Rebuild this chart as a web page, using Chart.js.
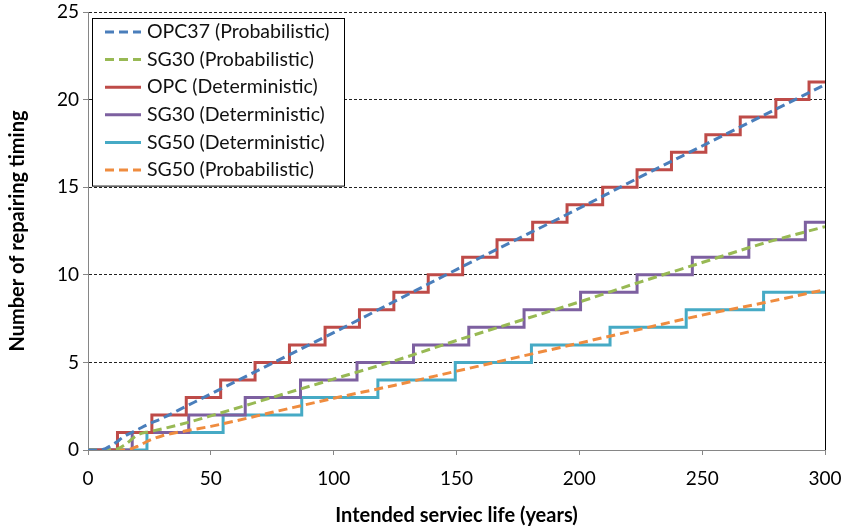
<!DOCTYPE html>
<html>
<head>
<meta charset="utf-8">
<script src="https://cdn.jsdelivr.net/npm/chart.js@4"></script>
<style>
  html, body { margin: 0; padding: 0; background: #fff; }
  #wrap { width: 843px; height: 528px; }
</style>
</head>
<body>
<div id="wrap"><canvas id="repairChart" width="843" height="528"></canvas></div>
<script>
// probabilistic curves
const years = [0, 5, 10, 15, 20, 25, 30, 40, 50, 75, 100, 125, 150, 175, 200, 225, 250, 275, 300];
const opc37Prob = [0, 0, 0.3, 0.8, 1.15, 1.5, 1.8, 2.5, 3.2, 4.95, 6.7, 8.5, 10.3, 12.05, 13.8, 15.6, 17.35, 19.1, 20.85];
const sg30Prob = [0, 0, 0, 0.3, 0.85, 1.05, 1.2, 1.55, 1.95, 3.0, 4.05, 5.1, 6.25, 7.35, 8.45, 9.6, 10.7, 11.8, 12.75];
const sg50Prob = [0, 0, 0, 0, 0.2, 0.55, 0.8, 1.1, 1.35, 2.15, 2.95, 3.7, 4.5, 5.3, 6.1, 6.9, 7.7, 8.4, 9.15];

// deterministic steps: year of each repair
const opcDetYears = [0, 12, 26, 40, 54, 68, 82, 96.5, 110.5, 124.5, 138.5, 152.5, 166.5, 181, 195, 209.5, 223.5, 237.5, 251.5, 265.5, 280, 293.5, 300];
const opcDet = [0, 1, 2, 3, 4, 5, 6, 7, 8, 9, 10, 11, 12, 13, 14, 15, 16, 17, 18, 19, 20, 21, 21];
const sg30DetYears = [0, 18, 41, 64, 86.5, 109.5, 132.5, 155, 177.5, 200.5, 223.5, 246, 269, 292, 300];
const sg30Det = [0, 1, 2, 3, 4, 5, 6, 7, 8, 9, 10, 11, 12, 13, 13];
const sg50DetYears = [0, 24, 55, 87, 118, 149.5, 180.5, 212.5, 243.5, 275, 300];
const sg50Det = [0, 1, 2, 3, 4, 5, 6, 7, 8, 9, 9];

const xTicks = [0, 50, 100, 150, 200, 250, 300];
const yTicks = [0, 5, 10, 15, 20, 25];

const FONT = "Lato, 'Open Sans', sans-serif";
const toXY = (xs, ys) => xs.map((x, i) => ({ x: x, y: ys[i] }));

// legend drawn in a boxed panel in the top-left of the plot
const boxLegend = {
    id: 'boxLegend',
    afterDraw(chart) {
        const ctx = chart.ctx;
        const area = chart.chartArea;
        const left = area.left + 4, top = area.top + 6;
        const w = 252, rowH = 27.6, h = rowH * chart.data.datasets.length + 2;
        ctx.save();
        ctx.fillStyle = '#fff';
        ctx.fillRect(left, top, w, h);
        ctx.strokeStyle = '#000';
        ctx.lineWidth = 1;
        ctx.strokeRect(left + 0.5, top + 0.5, w, h);
        ctx.font = '19.5px ' + FONT;
        ctx.textBaseline = 'middle';
        chart.data.datasets.forEach((ds, i) => {
            const y = top + 14 + i * rowH;
            ctx.beginPath();
            ctx.strokeStyle = ds.borderColor;
            ctx.lineWidth = ds.borderWidth;
            ctx.setLineDash(ds.borderDash || []);
            ctx.moveTo(left + 13, y);
            ctx.lineTo(left + 49, y);
            ctx.stroke();
            ctx.setLineDash([]);
            ctx.fillStyle = '#111';
            ctx.fillText(ds.label, left + 55, y);
        });
        ctx.restore();
    }
};

const ctx = document.getElementById('repairChart').getContext('2d');

new Chart(ctx, {
    type: 'line',
    data: {
        datasets: [
            {
                label: 'OPC37 (Probabilistic)',
                data: toXY(years, opc37Prob),
                borderColor: '#4a7ebb',
                borderWidth: 3,
                borderDash: [9, 5],
                cubicInterpolationMode: 'monotone',
                order: 0,
            },
            {
                label: 'SG30 (Probabilistic)',
                data: toXY(years, sg30Prob),
                borderColor: '#98b954',
                borderWidth: 3,
                borderDash: [9, 5],
                cubicInterpolationMode: 'monotone',
                order: 0,
            },
            {
                label: 'OPC (Deterministic)',
                data: toXY(opcDetYears, opcDet),
                borderColor: '#be4b48',
                borderWidth: 3,
                stepped: 'before',
                order: 1,
            },
            {
                label: 'SG30 (Deterministic)',
                data: toXY(sg30DetYears, sg30Det),
                borderColor: '#7d60a0',
                borderWidth: 3,
                stepped: 'before',
                order: 1,
            },
            {
                label: 'SG50 (Deterministic)',
                data: toXY(sg50DetYears, sg50Det),
                borderColor: '#46aac5',
                borderWidth: 3,
                stepped: 'before',
                order: 1,
            },
            {
                label: 'SG50 (Probabilistic)',
                data: toXY(years, sg50Prob),
                borderColor: '#ef8c3f',
                borderWidth: 3,
                borderDash: [9, 5],
                cubicInterpolationMode: 'monotone',
                order: 0,
            },
        ],
    },
    options: {
        responsive: false,
        animation: false,
        layout: { padding: { top: 12, right: 18, left: 0, bottom: 0 } },
        elements: { point: { radius: 0 } },
        plugins: {
            legend: { display: false },
            tooltip: { enabled: false },
        },
        scales: {
            x: {
                type: 'linear',
                min: 0,
                max: 300,
                afterFit: s => { s.height = 78; s.paddingLeft = 0; s.paddingRight = 0; },
                afterBuildTicks: s => { s.ticks = xTicks.map(v => ({ value: v })); },
                ticks: { font: { family: FONT, size: 19 }, color: '#000', padding: 12, maxRotation: 0 },
                grid: {
                    drawOnChartArea: true,
                    color: c => (c.tick && c.tick.value === 300 ? '#000' : 'rgba(0,0,0,0)'),
                    tickColor: '#868686',
                    tickLength: 5,
                    lineWidth: 1,
                },
                border: { color: '#868686', width: 1 },
                title: {
                    display: true,
                    text: 'Intended serviec life (years)',
                    font: { family: FONT, size: 20, weight: 'bold' },
                    color: '#000',
                    padding: { top: 0, bottom: 0 },
                },
            },
            y: {
                min: 0,
                max: 25,
                afterFit: s => { s.width = 88; s.paddingTop = 0; s.paddingBottom = 0; },
                afterBuildTicks: s => { s.ticks = yTicks.map(v => ({ value: v })); },
                ticks: { font: { family: FONT, size: 19 }, color: '#000', padding: 4 },
                grid: {
                    color: c => (c.tick && c.tick.value === 0 ? 'rgba(0,0,0,0)' : '#222'),
                    tickColor: '#868686',
                    tickLength: 5,
                    lineWidth: 1,
                },
                border: { color: '#868686', width: 1, dash: [3, 2] },
                title: {
                    display: true,
                    text: 'Number of repairing timing',
                    font: { family: FONT, size: 20, weight: 'bold' },
                    color: '#000',
                    padding: { top: 6, bottom: 0 },
                },
            },
        },
    },
    plugins: [boxLegend],
});
</script>
</body>
</html>
